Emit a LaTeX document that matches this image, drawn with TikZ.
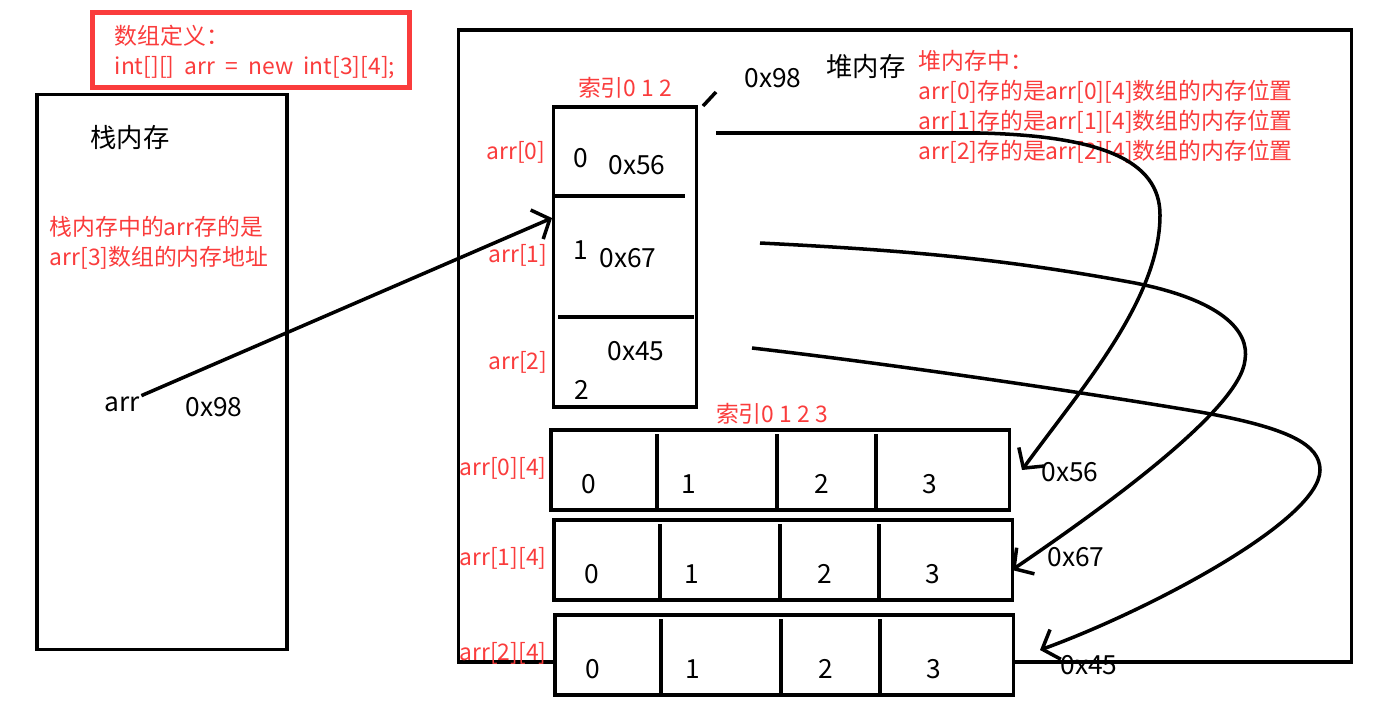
\documentclass[tikz,border=0pt]{standalone}
\usepackage{fontspec}
\setmainfont{Noto Sans CJK SC}
\newfontfamily\widefont[WordSpace=2]{Noto Sans CJK SC}
\usetikzlibrary{arrows.meta, calc}
\definecolor{notered}{RGB}{250,60,60}

\begin{document}
\begin{tikzpicture}[x = 0.02cm, y = -0.02cm, % one unit = one pixel of the sketch
                > = {Straight Barb[length=8pt, width=18pt]}, % hand drawn heads
                line width = 2pt, % line style
                box/.style = {draw, rectangle, inner sep = 0pt},
                txt/.style = {inner sep = 0pt, font = \fontsize{15}{18}\selectfont},
                note/.style = {inner sep = 0pt, text = notered, align = left,
                    font = \fontsize{13}{17}\selectfont}
            ]
            \useasboundingbox (0,0) rectangle (1382,707);

            % definition
            \node[box, draw = notered, line width = 3pt, minimum width = 6.34cm,
                minimum height = 1.5cm] (def) at (251,50) {};
            \node[note, anchor = west, font = \fontsize{13}{17}\widefont]
                (deftext) at (113,52) {数组定义：\\int[][] arr = new int[3][4];};

            % stack
            \node[box, minimum width = 5cm, minimum height = 11.1cm] (stack) at (162,372) {};
            \node[txt] (stacktitle) at (130,138) {栈内存};
            \node[note, anchor = west] (stacknote) at (48,243)
                {栈内存中的arr存的是\\arr[3]数组的内存地址};
            \node[txt] (arr) at (122,404) {arr};
            \node[txt] (stackaddr) at (214,407) {0x98};

            % heap
            \node[box, minimum width = 17.86cm, minimum height = 12.64cm] (heap) at (905,346) {};
            \node[txt] (heaptitle) at (866,67) {堆内存};
            \node[txt] (heapaddr) at (773,78) {0x98};
            \draw (703,106) -- (716,92);
            \node[note, anchor = west] (heapnote) at (917,107)
                {堆内存中：\\arr[0]存的是arr[0][4]数组的内存位置\\
                 arr[1]存的是arr[1][4]数组的内存位置\\arr[2]存的是arr[2][4]数组的内存位置};

            % arr[3]
            \node[note] (idx1) at (625,88) {索引0 1 2};
            \node[box, minimum width = 2.86cm, minimum height = 6cm] (one) at (625,257) {};
            \draw (554,196) -- (685,196);
            \draw (558,317) -- (694,317);
            \node[txt] (i0) at (581,158) {0};
            \node[txt] (a0) at (637,165) {0x56};
            \node[txt] (i1) at (581,250) {1};
            \node[txt] (a1) at (628,258) {0x67};
            \node[txt] (a2) at (636,351) {0x45};
            \node[txt] (i2) at (582,390) {2};
            \node[note] (lab0) at (516,152) {arr[0]};
            \node[note] (lab1) at (518,255) {arr[1]};
            \node[note] (lab2) at (518,362) {arr[2]};

            % arr[i][4]
            \node[note] (idx2) at (772,414) {索引0 1 2 3};
            \foreach \i/\x/\y in {0/549/470, 1/552/560, 2/553/655} {
                \node[box, fill = white, minimum width = 9.18cm, minimum height = 1.6cm,
                    anchor = west] (row\i) at (\x,\y) {};
                \foreach \d in {108, 228, 327}
                    \draw ({\x+\d},{\y-36}) -- ({\x+\d},{\y+40});
                \foreach \d [count = \k from 0] in {40, 140, 273, 381}
                    \node[txt] (c\i\k) at ({\x+\d},{\y+14}) {\k};
                \node[note] (rowlab\i) at (503,{\y-2}) {arr[\i][4]};
            }
            \node[txt] (r0addr) at (1070,472) {0x56};
            \node[txt] (r1addr) at (1076,557) {0x67};
            \node[txt] (r2addr) at (1089,665) {0x45};

            % pointers
            \coordinate (in1) at (552,218);
            \coordinate (s0) at (716,133);
            \coordinate (s1) at (760,243);
            \coordinate (s2) at (752,348);
            \coordinate (e0) at (1022,470);
            \coordinate (e1) at (1012,570);
            \coordinate (e2) at (1040,650);

            \draw[->] (arr) -- (in1);
            \draw[->] (s0) -- (980,133) .. controls (1100,136) and (1160,160) .. (1160,215)
                .. controls (1160,300) and (1080,390) .. (e0);
            \draw[->] (s1) .. controls (900,250) and (1000,258) .. (1135,283)
                .. controls (1220,300) and (1250,330) .. (1245,360)
                .. controls (1240,410) and (1100,510) .. (e1);
            \draw[->] (s2) .. controls (900,365) and (1100,395) .. (1200,412)
                .. controls (1290,428) and (1320,445) .. (1320,470)
                .. controls (1320,520) and (1150,610) .. (e2);
        \end{tikzpicture}
\end{document}
